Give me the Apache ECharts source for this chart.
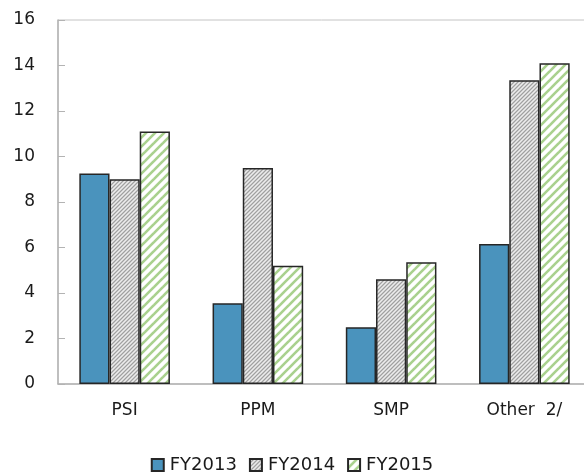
<!DOCTYPE html>
<html>
<head>
<meta charset="utf-8">
<script src="https://cdn.jsdelivr.net/npm/echarts@6/dist/echarts.min.js"></script>
<style>
  html, body { margin: 0; padding: 0; background: #ffffff; }
  #chart { width: 584px; height: 474px; }
</style>
</head>
<body>
<div id="chart"></div>
<script>
// Segment figures by fiscal year
const categories = ['PSI', 'PPM', 'SMP', 'Other  2/'];
const fy2013 = [9.25, 3.55, 2.5, 6.15];
const fy2014 = [9.0, 9.5, 4.6, 13.35];
const fy2015 = [11.1, 5.2, 5.35, 14.1];
const yTicks = { min: 0, max: 16, step: 2 };

// Fine grey hatch texture
function greyHatch() {
  const c = document.createElement('canvas');
  c.width = 4; c.height = 4;
  const g = c.getContext('2d');
  g.fillStyle = '#cdcdcd';
  g.fillRect(0, 0, 4, 4);
  for (let i = 0; i < 4; i++) {
    g.fillStyle = '#a0a0a0';
    g.fillRect(i, 3 - i, 1, 1);
    g.fillStyle = '#ececec';
    g.fillRect(i, (5 - i) % 4, 1, 1);
  }
  return c;
}

// Light green diagonal stripes on white
function greenStripes() {
  const s = 9;
  const c = document.createElement('canvas');
  c.width = s; c.height = s;
  const g = c.getContext('2d');
  g.fillStyle = '#ffffff';
  g.fillRect(0, 0, s, s);
  g.strokeStyle = '#a9d18e';
  g.lineWidth = 2.6;
  for (const k of [0, s, 2 * s]) {
    g.beginPath();
    g.moveTo(-1, k + 1);
    g.lineTo(k + 1, -1);
    g.stroke();
  }
  return c;
}

const edge = { borderColor: '#262626', borderWidth: 1.5 };
const font = '"DejaVu Sans", sans-serif';

const chart = echarts.init(document.getElementById('chart'), null, { renderer: 'canvas' });
chart.setOption({
  animation: false,
  backgroundColor: '#ffffff',
  textStyle: { fontFamily: font },
  grid: {
    left: 58, width: 533, top: 20, height: 364,
    outerBoundsMode: 'none',
    containLabel: false,
    show: true, borderColor: '#c4c4c4', borderWidth: 1, backgroundColor: 'transparent'
  },
  legend: {
    top: 451,
    left: 'center',
    itemWidth: 12,
    itemHeight: 12,
    itemGap: 12,
    icon: 'rect',
    textStyle: { fontFamily: font, fontSize: 18, color: '#1a1a1a', padding: [0, 0, 0, 1] },
    data: ['FY2013', 'FY2014', 'FY2015']
  },
  xAxis: {
    type: 'category',
    data: categories,
    axisLine: { lineStyle: { color: '#b3b3b3', width: 1.5 } },
    axisTick: { inside: true, length: 6, lineStyle: { color: '#b3b3b3' } },
    axisLabel: { fontSize: 17, color: '#1a1a1a', margin: 18, fontFamily: font }
  },
  yAxis: {
    type: 'value',
    min: yTicks.min, max: yTicks.max, interval: yTicks.step,
    splitLine: { show: false },
    axisLine: { show: true, lineStyle: { color: '#b3b3b3', width: 1.5 } },
    axisTick: { show: true, inside: true, length: 7, lineStyle: { color: '#b3b3b3' } },
    axisLabel: { fontSize: 17, color: '#1a1a1a', margin: 23, fontFamily: font }
  },
  series: [
    {
      name: 'FY2013', type: 'bar', data: fy2013,
      barGap: '0%', barCategoryGap: '32%',
      itemStyle: Object.assign({ color: '#4a93bd' }, edge)
    },
    {
      name: 'FY2014', type: 'bar', data: fy2014,
      barGap: '0%', barCategoryGap: '32%',
      itemStyle: Object.assign({ color: { image: greyHatch(), repeat: 'repeat' } }, edge)
    },
    {
      name: 'FY2015', type: 'bar', data: fy2015,
      barGap: '0%', barCategoryGap: '32%',
      itemStyle: Object.assign({ color: { image: greenStripes(), repeat: 'repeat' } }, edge)
    }
  ]
});
</script>
</body>
</html>
